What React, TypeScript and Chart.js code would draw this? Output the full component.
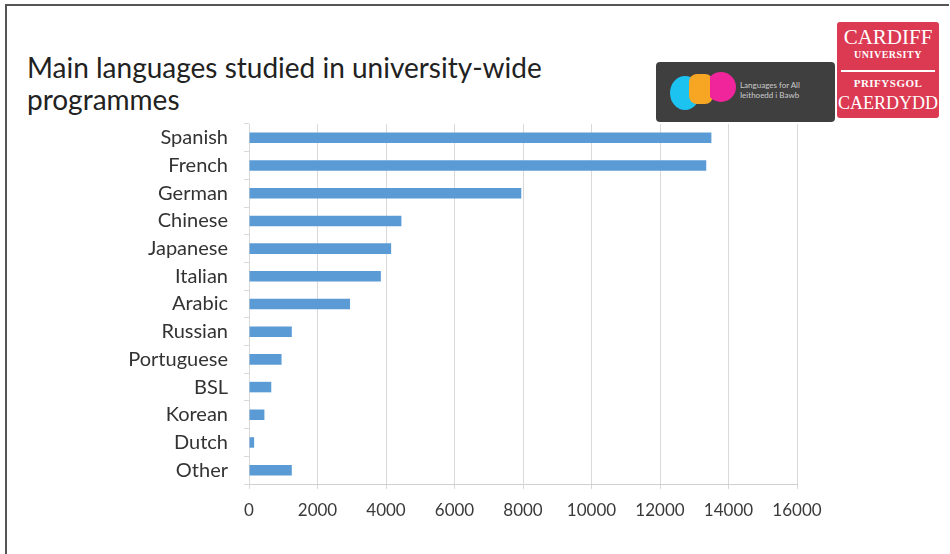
import React, { useEffect, useRef } from "react";
import { Chart, registerables } from "chart.js";
Chart.register(...registerables);

const languages = [
  "Spanish", "French", "German", "Chinese", "Japanese", "Italian", "Arabic",
  "Russian", "Portuguese", "BSL", "Korean", "Dutch", "Other",
];
const students = [13500, 13350, 7950, 4450, 4150, 3850, 2950, 1250, 950, 650, 450, 150, 1250];
const xMin = 0;
const xMax = 16000;
const xStep = 2000;

const FONT = "Lato, 'Open Sans', sans-serif";

function ChartCanvas() {
  const ref = useRef<HTMLCanvasElement | null>(null);
  useEffect(() => {
    if (!ref.current) return;
    const chart = new Chart(ref.current, {
      type: "bar",
      data: {
        labels: languages,
        datasets: [
          {
            data: students,
            backgroundColor: "#5b9bd5",
            borderWidth: 0,
            categoryPercentage: 1,
            barPercentage: 0.38,
          },
        ],
      },
      options: {
        indexAxis: "y",
        responsive: false,
        animation: false,
        layout: { padding: { top: 124, right: 153, bottom: 30, left: 0 } },
        plugins: { legend: { display: false }, tooltip: { enabled: false }, title: { display: false } },
        scales: {
          x: {
            min: xMin,
            max: xMax,
            ticks: {
              stepSize: xStep,
              color: "#3a3a3a",
              font: { family: FONT, size: 17 },
              padding: 11,
              callback: (v: any) => String(v),
            },
            grid: { color: "#d9d9d9", lineWidth: 1, drawTicks: true, tickLength: 5 },
            border: { display: true, color: "#d0d0d0" },
            afterFit: (s: any) => { s.height = 40; },
          },
          y: {
            ticks: { color: "#333", font: { family: FONT, size: 20 }, padding: 16 },
            grid: { color: "#d9d9d9", drawOnChartArea: false, drawTicks: true, tickLength: 5, offset: true },
            border: { display: true, color: "#d9d9d9" },
            afterFit: (s: any) => { s.width = 249; },
          },
        },
      },
    });
    return () => chart.destroy();
  }, []);
  return (
    <canvas
      ref={ref}
      width={950}
      height={554}
      style={{ position: "absolute", left: 0, top: 0, width: 950, height: 554 }}
    />
  );
}

export default function App() {
  return (
    <div style={{ position: "absolute", left: 0, top: 0, width: 950, height: 554, background: "#fff", overflow: "hidden" }}>
      <div style={{ position: "absolute", left: 5, top: 4, width: 942, height: 560, borderTop: "2px solid #555", borderLeft: "2px solid #555" }} />
      <div
        style={{
          position: "absolute", left: 27, top: 51, fontFamily: FONT, fontSize: 28, lineHeight: "32px", color: "#222",
        }}
      >
        Main languages studied in university-wide
        <br />
        programmes
      </div>
      {/* Languages for All badge */}
      <div style={{ position: "absolute", left: 656, top: 62, width: 179, height: 60, background: "#3f3f3f", borderRadius: 4 }}>
        <div style={{ position: "absolute", left: 14, top: 14, width: 30, height: 34, borderRadius: "50%", background: "#1cc3f0" }} />
        <div style={{ position: "absolute", left: 33, top: 12, width: 24, height: 30, borderRadius: 8, background: "#f6a623" }} />
        <div style={{ position: "absolute", left: 50, top: 10, width: 30, height: 30, borderRadius: "50%", background: "#f0259c" }} />
        <div style={{ position: "absolute", left: 40, top: 13, width: 14, height: 28, background: "#f6a623", borderRadius: 4 }} />
        <div style={{ position: "absolute", left: 84, top: 18, fontFamily: FONT, fontSize: 8, lineHeight: "10px", color: "#ccc" }}>
          Languages for All
          <br />
          Ieithoedd i Bawb
        </div>
      </div>
      {/* Cardiff University logo */}
      <div style={{ position: "absolute", left: 837, top: 22, width: 102, height: 96, background: "#dc3a52", borderRadius: 3, color: "#fff", textAlign: "center", fontFamily: "'Liberation Serif', serif", overflow: "hidden" }}>
        <div style={{ position: "absolute", left: 0, right: 0, top: 3, fontSize: 21, lineHeight: "24px" }}>CARDIFF</div>
        <div style={{ position: "absolute", left: 0, right: 0, top: 27, fontSize: 10, lineHeight: "12px", fontWeight: "bold", letterSpacing: 0.5 }}>UNIVERSITY</div>
        <div style={{ position: "absolute", left: 4, right: 4, top: 48, height: 2, background: "#fff" }} />
        <div style={{ position: "absolute", left: 0, right: 0, top: 55, fontSize: 11, lineHeight: "13px", fontWeight: "bold", letterSpacing: 0.5 }}>PRIFYSGOL</div>
        <div style={{ position: "absolute", left: 0, right: 0, top: 69, fontSize: 18, lineHeight: "24px" }}>CAERDYDD</div>
      </div>
      <ChartCanvas />
    </div>
  );
}
